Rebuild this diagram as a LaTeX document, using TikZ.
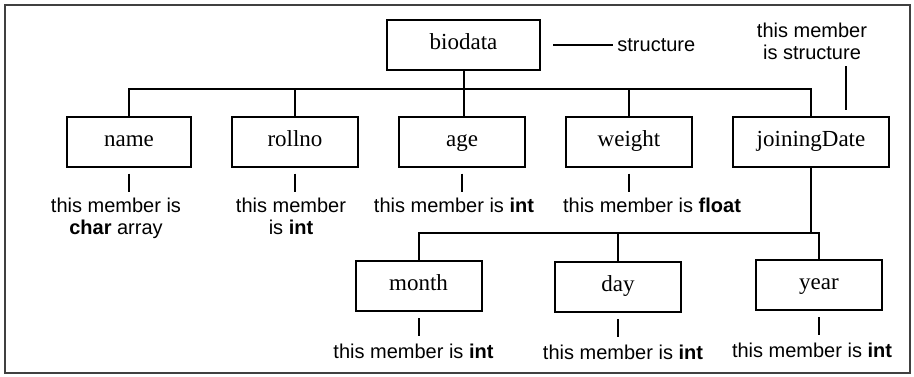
\documentclass[tikz,border=0pt]{standalone}
\usepackage{fontspec}
\setmainfont{Liberation Serif}
\setsansfont{Liberation Sans}
\usetikzlibrary{positioning}
\begin{document}
\begin{tikzpicture}[x=0.5pt, y=-0.5pt,
  member/.style={rectangle, draw, line width=1pt, minimum width=63pt, minimum height=25pt, inner sep=0pt, text height=1.45ex, text depth=0.45ex, font=\fontsize{11.5}{13}\selectfont},
  note/.style={align=center, inner sep=1pt, font=\sffamily\fontsize{10}{11}\selectfont},
  link/.style={line width=1pt}]
  \useasboundingbox (0,0) rectangle (914,376);
  % Frame
  \draw[line width=1.2pt, black!75] (5,5) rectangle (910,373);
  % Nodes
  \node (biodata) [member, minimum width=76.5pt] at (463.5,45) {biodata};
  \node (name) [member, minimum width=62pt] at (129,141.5) {name};
  \node (rollno) [member] at (295,141.5) {rollno};
  \node (age) [member] at (462,141.5) {age};
  \node (weight) [member] at (629,141.5) {weight};
  \node (joiningDate) [member, minimum width=78pt] at (811,141.5) {joiningDate};
  \node (month) [member] at (418.5,286) {month};
  \node (day) [member] at (618,287) {day};
  \node (year) [member] at (819,285) {year};
  % Notes
  \node (structnote) [note, anchor=west, inner sep=2pt] at (613,45) {structure};
  \node (jdnote) [note] at (812,41) {this member\\is structure};
  \node (namenote) [note, below=14pt of name, xshift=-6.5pt] {this member is\\\textbf{char} array};
  \node (rollnote) [note, below=14pt of rollno, xshift=-2pt] {this member\\is \textbf{int}};
  \node (agenote) [note, below=14pt of age, xshift=-4pt] {this member is \textbf{int}};
  \node (weightnote) [note, below=14pt of weight, xshift=11.5pt] {this member is \textbf{float}};
  \node (monthnote) [note, below=15pt of month, xshift=-2.5pt] {this member is \textbf{int}};
  \node (daynote) [note, below=15pt of day, xshift=2.5pt] {this member is \textbf{int}};
  \node (yearnote) [note, below=15pt of year, xshift=-3.5pt] {this member is \textbf{int}};
  % Lines
  \coordinate (bus) at (0,89);
  \coordinate (subbus) at (0,233);
  \draw[link] (biodata.south) -- (biodata.south |- age.north);
  \draw[link] (name.north) -- (name.north |- bus) -| (joiningDate.north);
  \draw[link] (rollno.north) -- (rollno.north |- bus);
  \draw[link] (weight.north) -- (weight.north |- bus);
  \draw[link] (joiningDate.south) -- (joiningDate.south |- subbus);
  \draw[link] (month.north) -- (month.north |- subbus) -| (year.north);
  \draw[link] (day.north) -- (day.north |- subbus);
  \draw[link] ([xshift=6pt]biodata.east) -- (structnote.west);
  \draw[link] ([xshift=17.5pt,yshift=3pt]joiningDate.north) -- ([xshift=17.5pt,yshift=-2pt]joiningDate.north |- jdnote.south);
  % Stems
  \foreach \mem in {name, rollno, age, weight, month, day, year}
    \draw[link] (\mem.south) ++(0,6) -- ++(0,18);
\end{tikzpicture}
\end{document}
